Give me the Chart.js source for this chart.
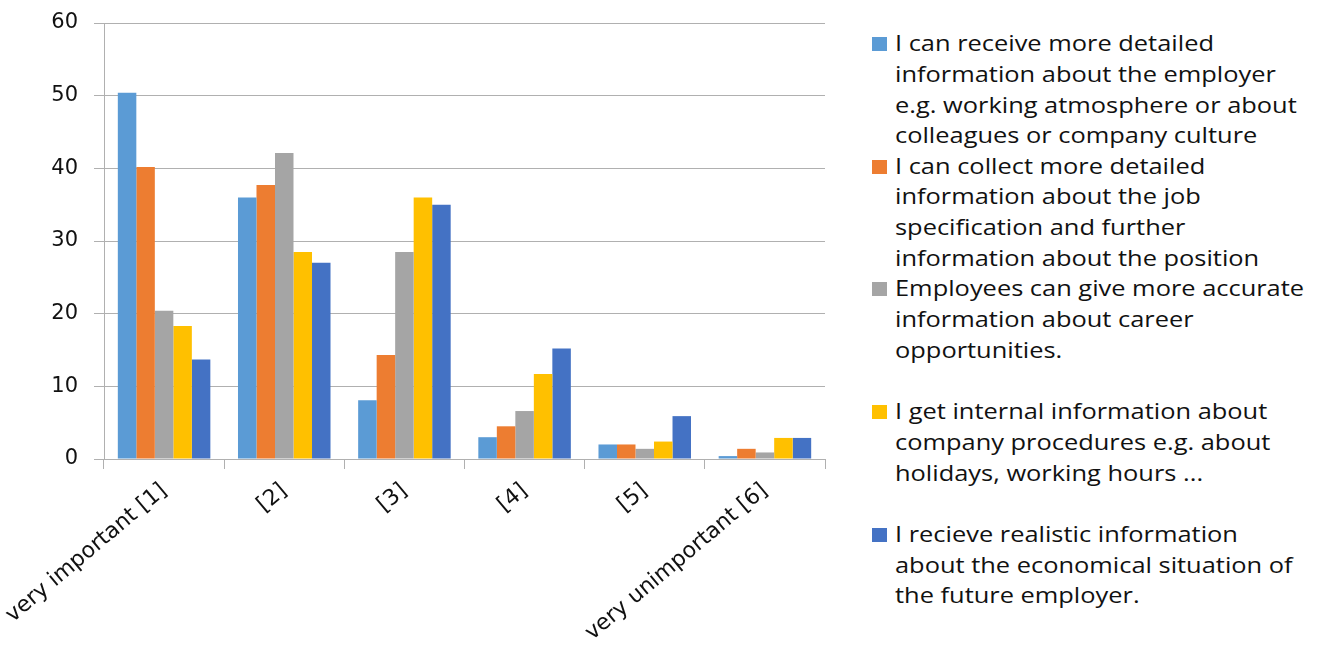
<!DOCTYPE html>
<html>
<head>
<meta charset="utf-8">
<script src="https://cdn.jsdelivr.net/npm/chart.js@4.4.1/dist/chart.umd.min.js"></script>
<style>
  html, body { margin: 0; padding: 0; background: #fff; }
  #wrap { position: relative; width: 1318px; height: 645px; overflow: hidden; }
  #chart { position: absolute; left: 0; top: 0; }
  #legend { position: absolute; left: 872px; top: 28px; font-family: "Open Sans", sans-serif; font-size: 21px; color: #111; }
  .item { position: relative; height: 122.7px; }
  .swatch { position: absolute; left: 0; top: 9px; width: 15px; height: 14px; }
  .text { position: absolute; left: 23px; top: 0; line-height: 30.8px; white-space: nowrap; transform: scaleX(1.21); transform-origin: 0 0; }
</style>
</head>
<body>
<div id="wrap">
  <canvas id="chart" width="850" height="645"></canvas>
  <div id="legend"></div>
</div>
<script>
// Rating scale categories
const categories = ["very important [1]", "[2]", "[3]", "[4]", "[5]", "very unimportant [6]"];

// Legend text, one array of lines per series
const employerLines = ["I can receive more detailed", "information about the employer", "e.g. working atmosphere or about", "colleagues or company culture"];
const jobLines = ["I can collect more detailed", "information about the job", "specification and further", "information about the position"];
const careerLines = ["Employees can give more accurate", "information about career", "opportunities."];
const proceduresLines = ["I get internal information about", "company procedures e.g. about", "holidays, working hours ..."];
const economicLines = ["I recieve realistic information", "about the economical situation of", "the future employer."];

// Share of answers per rating (%)
const employerValues = [50.4, 36.0, 8.1, 3.0, 2.0, 0.4];
const jobValues = [40.2, 37.7, 14.3, 4.5, 2.0, 1.4];
const careerValues = [20.4, 42.1, 28.5, 6.6, 1.4, 0.9];
const proceduresValues = [18.3, 28.5, 36.0, 11.7, 2.4, 2.9];
const economicValues = [13.7, 27.0, 35.0, 15.2, 5.9, 2.9];

// Axis ticks
const yTicks = [0, 10, 20, 30, 40, 50, 60];

const colors = ["#5B9BD5", "#ED7D31", "#A5A5A5", "#FFC000", "#4472C4"];
const series = [
  { lines: employerLines, values: employerValues },
  { lines: jobLines, values: jobValues },
  { lines: careerLines, values: careerValues },
  { lines: proceduresLines, values: proceduresValues },
  { lines: economicLines, values: economicValues }
];

const gridColor = "#b0b0b0";
const textColor = "#111";

const chart = new Chart(document.getElementById("chart"), {
  type: "bar",
  data: {
    labels: categories,
    datasets: series.map((s, i) => ({
      label: s.lines.join(" "),
      data: s.values,
      backgroundColor: colors[i],
      borderWidth: 0,
      categoryPercentage: 0.77,
      barPercentage: 1.0
    }))
  },
  options: {
    responsive: false,
    animation: false,
    layout: { padding: { top: 23, right: 25, left: 0, bottom: 0 } },
    plugins: { legend: { display: false }, tooltip: { enabled: false } },
    scales: {
      x: {
        grid: { display: true, drawOnChartArea: false, offset: true, color: gridColor, lineWidth: 1, tickLength: 10 },
        border: { color: gridColor, width: 1 },
        ticks: { color: textColor, font: { family: "DejaVu Sans", size: 22 }, minRotation: 40, maxRotation: 40, autoSkip: false, padding: 9 },
        afterFit: (scale) => {
          scale.height = 186;
          scale.paddingLeft = 0;
          scale.paddingRight = 0;
        }
      },
      y: {
        min: yTicks[0],
        max: yTicks[yTicks.length - 1],
        afterBuildTicks: (scale) => { scale.ticks = yTicks.map(v => ({ value: v })); },
        grid: { color: gridColor, lineWidth: 1, tickLength: 10 },
        border: { color: gridColor, width: 1 },
        ticks: { color: textColor, font: { family: "DejaVu Sans", size: 21 }, padding: 16 },
        afterFit: (scale) => {
          scale.width = 104;
          scale.paddingTop = 0;
          scale.paddingBottom = 0;
        }
      }
    }
  }
});

// Legend on the right, built from the chart's datasets
const legend = document.getElementById("legend");
chart.data.datasets.forEach((ds, i) => {
  const item = document.createElement("div");
  item.className = "item";
  const sw = document.createElement("div");
  sw.className = "swatch";
  sw.style.background = ds.backgroundColor;
  const txt = document.createElement("div");
  txt.className = "text";
  series[i].lines.forEach(line => {
    const d = document.createElement("div");
    d.textContent = line;
    txt.appendChild(d);
  });
  item.appendChild(sw);
  item.appendChild(txt);
  legend.appendChild(item);
});
</script>
</body>
</html>
